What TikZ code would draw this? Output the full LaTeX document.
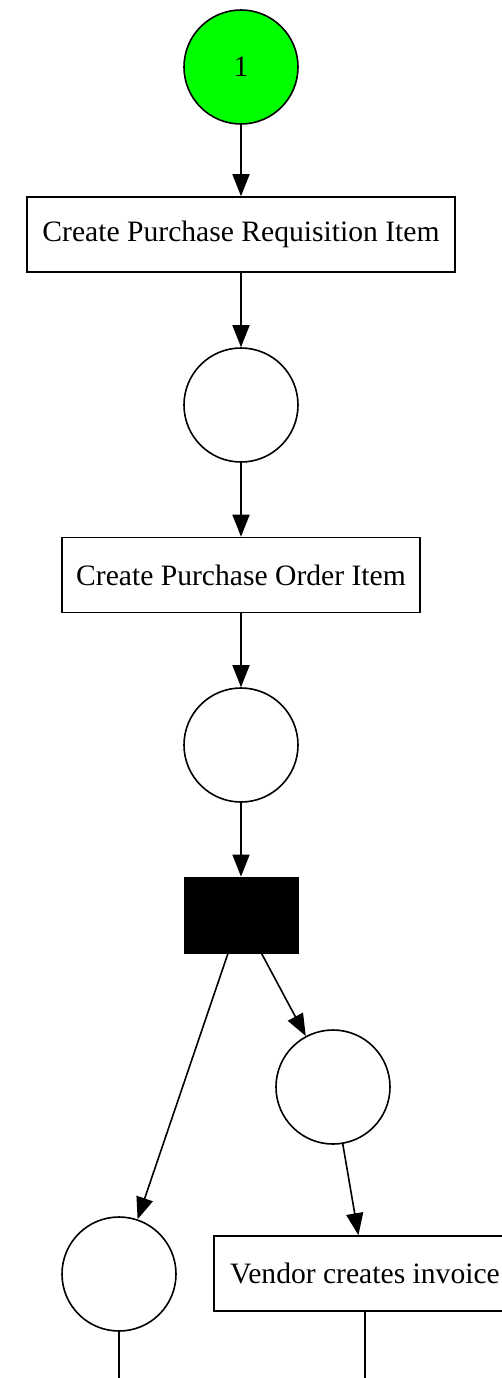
\documentclass[tikz,border=0pt]{standalone}
\usepackage{fontspec}
\setmainfont{Liberation Serif}
\usetikzlibrary{positioning}
\usetikzlibrary{arrows.meta}
\tikzstyle{place}=[circle,draw=black,line width=0.8pt,minimum size=57pt,inner sep=0pt]
\tikzstyle{trans}=[rectangle,draw=black,line width=0.8pt,minimum height=37.5pt,inner sep=0pt]
\tikzstyle{silent}=[rectangle,draw=black,fill=black,minimum width=57pt,minimum height=38pt,inner sep=0pt]
\tikzstyle{arc}=[line width=0.8pt,-{Triangle[length=11pt,width=8.5pt]}]

\begin{document}
\begin{tikzpicture}[x=0.5pt,y=-0.5pt,font=\fontsize{14.8}{18}\selectfont]
			\useasboundingbox (0,0) rectangle (502,1378);
			\clip (0,0) rectangle (502,1378);
			\begin{scope}
			\node [place, fill=green] (p1) at (241,67) {1};
			\node [trans, minimum width=214pt] (t1) at (241,234.5) {Create Purchase Requisition Item};
			\node [place] (p2) at (241,405) {};
			\node [trans, minimum width=179pt] (t2) at (241,575) {Create Purchase Order Item};
			\node [place] (p3) at (241,745) {};
			\node [silent] (tau) at (241,915) {};
			
			\node [place] (p4) at (333,1087) {};
			\node [place] (p5) at (119,1274) {};
			\node [trans, minimum width=151pt] (t3) at (365,1273.5) {Vendor creates invoice};
			
			\coordinate (p5out) at (119,1420);
			\coordinate (t3out) at (365,1420);
			
			\draw[arc] (p1) -- (t1);
			\draw[arc] (t1) -- (p2);
			\draw[arc] (p2) -- (t2);
			\draw[arc] (t2) -- (p3);
			\draw[arc] (p3) -- (tau);
			
			\draw[arc] (tau) -- (p5);
			\draw[arc] (tau) -- (p4);
			\draw[arc] (p4) -- (t3);
			
			\draw[line width=0.8pt] (p5) -- (p5out);
			\draw[line width=0.8pt] (t3) -- (t3out);
			\end{scope}
\end{tikzpicture}
\end{document}
